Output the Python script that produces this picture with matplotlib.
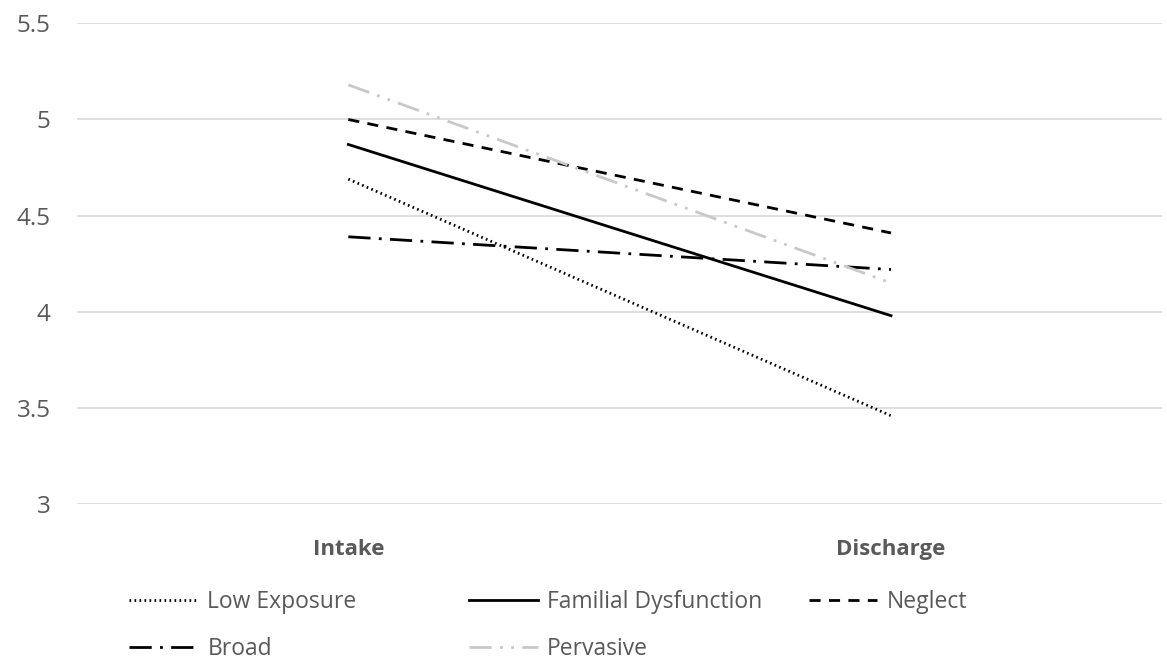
import matplotlib
matplotlib.use('Agg')
import matplotlib.pyplot as plt

plt.rcParams['font.family'] = ['Open Sans', 'DejaVu Sans']

# Data
timepoints = ['Intake', 'Discharge']
low_exposure = [4.69, 3.46]
familial = [4.87, 3.98]
neglect = [5.00, 4.41]
broad = [4.39, 4.22]
pervasive = [5.18, 4.15]

text_grey = '#595959'
grid_grey = '#d9d9d9'

fig = plt.figure(figsize=(11.67, 6.66), dpi=100)
ax = fig.add_axes([0.066, 0.243, 0.93, 0.722])

x = list(range(len(timepoints)))
lw = 2.0
l1, = ax.plot(x, low_exposure, color='black', lw=lw, linestyle=(0, (0.6, 1.2)), label='Low Exposure')
l2, = ax.plot(x, familial, color='black', lw=lw, linestyle='-', label='Familial Dysfunction')
l3, = ax.plot(x, neglect, color='black', lw=lw, linestyle=(0, (4, 3)), label='Neglect')
l4, = ax.plot(x, broad, color='black', lw=lw, linestyle=(0, (8, 3, 1, 3)), label='Broad')
l5, = ax.plot(x, pervasive, color='#c8c8c8', lw=lw, linestyle=(0, (8, 3, 1, 3, 1, 3)), label='Pervasive')

ax.set_xlim(-0.5, 1.5)
ax.set_ylim(3, 5.5)
ax.set_yticks([3, 3.5, 4, 4.5, 5, 5.5])
ax.set_yticklabels(['3', '3.5', '4', '4.5', '5', '5.5'])
ax.set_xticks(x)
ax.set_xticklabels(timepoints, fontweight='bold')
ax.tick_params(axis='both', length=0, colors=text_grey)
ax.tick_params(axis='y', pad=19, labelsize=17.5)
ax.tick_params(axis='x', pad=25, labelsize=16)
ax.grid(axis='y', color=grid_grey, lw=1.2)
ax.set_axisbelow(True)
for s in ax.spines.values():
    s.set_visible(False)

# legend: three columns laid out with equal spacing
cols = [([l1, l4], 0.103), ([l2, l5], 0.394), ([l3], 0.685)]
for handles, xpos in cols:
    leg = fig.legend(handles=handles, loc='upper left', bbox_to_anchor=(xpos, 0.128),
                     frameon=False, fontsize=16.5, handlelength=3.0, handletextpad=0.4,
                     labelspacing=1.0, borderaxespad=0)
    for t in leg.get_texts():
        t.set_color(text_grey)

fig.savefig('out.png', dpi=100)
